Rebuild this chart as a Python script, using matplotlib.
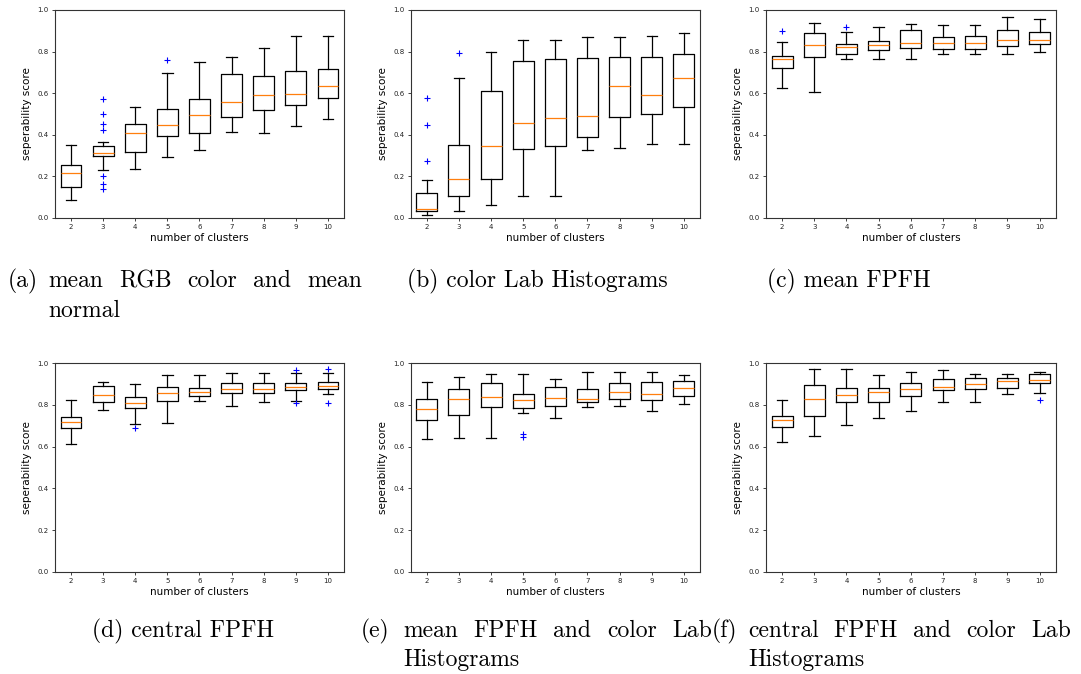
import matplotlib
matplotlib.use('Agg')
import matplotlib.pyplot as plt

# ---------------- data ----------------
CLUSTERS = [2, 3, 4, 5, 6, 7, 8, 9, 10]

A_LO = [0.088, 0.232, 0.237, 0.293, 0.326, 0.413, 0.408, 0.442, 0.474]
A_Q1 = [0.149, 0.299, 0.317, 0.395, 0.410, 0.485, 0.518, 0.541, 0.576]
A_MED = [0.216, 0.312, 0.408, 0.446, 0.494, 0.560, 0.590, 0.597, 0.634]
A_Q3 = [0.253, 0.344, 0.454, 0.522, 0.574, 0.690, 0.682, 0.709, 0.715]
A_HI = [0.352, 0.366, 0.536, 0.696, 0.750, 0.776, 0.816, 0.875, 0.875]
A_FLIERS = [[], [0.573, 0.501, 0.453, 0.422, 0.203, 0.165, 0.141], [], [0.760], [], [], [], [], []]

B_LO = [0.013, 0.034, 0.062, 0.104, 0.104, 0.326, 0.336, 0.355, 0.355]
B_Q1 = [0.034, 0.104, 0.187, 0.331, 0.346, 0.390, 0.485, 0.498, 0.536]
B_MED = [0.043, 0.189, 0.346, 0.459, 0.483, 0.490, 0.634, 0.590, 0.672]
B_Q3 = [0.120, 0.349, 0.610, 0.757, 0.766, 0.771, 0.776, 0.776, 0.787]
B_HI = [0.181, 0.675, 0.797, 0.854, 0.854, 0.869, 0.869, 0.875, 0.890]
B_FLIERS = [[0.576, 0.448, 0.274], [0.792], [], [], [], [], [], [], []]

C_LO = [0.627, 0.608, 0.766, 0.766, 0.766, 0.787, 0.787, 0.787, 0.797]
C_Q1 = [0.720, 0.773, 0.790, 0.806, 0.816, 0.811, 0.814, 0.829, 0.838]
C_MED = [0.766, 0.832, 0.821, 0.832, 0.843, 0.843, 0.843, 0.858, 0.858]
C_Q3 = [0.781, 0.890, 0.838, 0.853, 0.906, 0.872, 0.877, 0.906, 0.894]
C_HI = [0.848, 0.939, 0.894, 0.920, 0.934, 0.930, 0.930, 0.966, 0.958]
C_FLIERS = [[0.899], [], [0.920], [], [], [], [], [], []]

D_LO = [0.612, 0.773, 0.706, 0.711, 0.816, 0.792, 0.813, 0.816, 0.850]
D_Q1 = [0.687, 0.812, 0.784, 0.816, 0.842, 0.855, 0.855, 0.869, 0.875]
D_MED = [0.716, 0.845, 0.807, 0.855, 0.859, 0.875, 0.874, 0.883, 0.891]
D_Q3 = [0.741, 0.890, 0.839, 0.887, 0.882, 0.903, 0.906, 0.906, 0.911]
D_HI = [0.821, 0.909, 0.901, 0.941, 0.941, 0.950, 0.950, 0.950, 0.950]
D_FLIERS = [[], [], [0.690], [], [], [], [], [0.966, 0.807], [0.971, 0.807]]

E_LO = [0.634, 0.642, 0.642, 0.762, 0.735, 0.788, 0.792, 0.768, 0.802]
E_Q1 = [0.725, 0.751, 0.788, 0.783, 0.792, 0.812, 0.826, 0.821, 0.842]
E_MED = [0.778, 0.829, 0.837, 0.821, 0.832, 0.829, 0.859, 0.850, 0.882]
E_Q3 = [0.826, 0.877, 0.903, 0.853, 0.887, 0.874, 0.903, 0.907, 0.915]
E_HI = [0.911, 0.935, 0.946, 0.946, 0.925, 0.955, 0.955, 0.955, 0.941]
E_FLIERS = [[], [], [], [0.661, 0.645], [], [], [], [], []]

F_LO = [0.623, 0.649, 0.701, 0.735, 0.768, 0.812, 0.812, 0.850, 0.855]
F_Q1 = [0.692, 0.746, 0.812, 0.812, 0.840, 0.869, 0.874, 0.879, 0.906]
F_MED = [0.725, 0.826, 0.845, 0.859, 0.874, 0.887, 0.901, 0.912, 0.920]
F_Q3 = [0.746, 0.897, 0.882, 0.879, 0.903, 0.922, 0.927, 0.927, 0.946]
F_HI = [0.821, 0.971, 0.971, 0.941, 0.955, 0.965, 0.946, 0.946, 0.955]
F_FLIERS = [[], [], [], [], [], [], [], [], [0.821]]

Y_TICKS = [0.0, 0.2, 0.4, 0.6, 0.8, 1.0]
X_LABEL = "number of clusters"
Y_LABEL = "seperability score"

# ---------------- figure ----------------
W, H = 1081, 674
fig = plt.figure(figsize=(W / 100, H / 100), dpi=100)


def px_axes(left, top, right, bottom):
    return fig.add_axes([left / W, 1 - bottom / H, (right - left) / W, (bottom - top) / H])


def draw_panel(ax, lo, q1, med, q3, hi, fliers):
    stats = []
    for i in range(len(CLUSTERS)):
        stats.append(dict(whislo=lo[i], q1=q1[i], med=med[i], q3=q3[i],
                          whishi=hi[i], fliers=fliers[i]))
    lw = 0.9
    ax.bxp(stats, positions=CLUSTERS, widths=0.65, showfliers=True,
           boxprops=dict(color='black', linewidth=lw),
           whiskerprops=dict(color='black', linewidth=lw),
           capprops=dict(color='black', linewidth=lw),
           medianprops=dict(color='#ff7f0e', linewidth=lw),
           flierprops=dict(marker='+', markeredgecolor='blue', markersize=4,
                           linestyle='none', markeredgewidth=0.8))
    ax.set_xlim(CLUSTERS[0] - 0.5, CLUSTERS[-1] + 0.5)
    ax.set_ylim(0, 1)
    ax.set_xticks(CLUSTERS)
    ax.set_xticklabels([str(c) for c in CLUSTERS])
    ax.set_yticks(Y_TICKS)
    ax.set_yticklabels([f"{t:.1f}" for t in Y_TICKS])
    ax.tick_params(labelsize=5, length=2.5, width=0.6, pad=2, colors='#222222')
    for s in ax.spines.values():
        s.set_linewidth(0.8)
        s.set_color('#333333')
    ax.set_xlabel(X_LABEL, fontsize=7.5, labelpad=2)
    ax.set_ylabel(Y_LABEL, fontsize=7.5, labelpad=4)


panels = [
    ((55, 10, 344, 218), (A_LO, A_Q1, A_MED, A_Q3, A_HI, A_FLIERS)),
    ((410.7, 10, 700, 218), (B_LO, B_Q1, B_MED, B_Q3, B_HI, B_FLIERS)),
    ((766, 10, 1055.7, 218), (C_LO, C_Q1, C_MED, C_Q3, C_HI, C_FLIERS)),
    ((55, 363, 344, 572), (D_LO, D_Q1, D_MED, D_Q3, D_HI, D_FLIERS)),
    ((410.7, 363, 700, 572), (E_LO, E_Q1, E_MED, E_Q3, E_HI, E_FLIERS)),
    ((766, 363, 1055.7, 572), (F_LO, F_Q1, F_MED, F_Q3, F_HI, F_FLIERS)),
]
for rect, data in panels:
    ax = px_axes(*rect)
    draw_panel(ax, *data)

# ---------------- captions ----------------
CAP_FONT = 'cmr10'
CAP_SIZE = 17
renderer = fig.canvas.get_renderer()


def put(text, x, y):
    return fig.text(x / W, 1 - y / H, text, fontsize=CAP_SIZE, family=CAP_FONT,
                    ha='left', va='baseline')


def width_px(t):
    return t.get_window_extent(renderer).width


def justified(words, x0, x1, y):
    ts = [put(w, x0, y) for w in words]
    widths = [width_px(t) for t in ts]
    gap = (x1 - x0 - sum(widths)) / (len(words) - 1)
    x = x0
    for t, w in zip(ts, widths):
        t.set_x(x / W)
        x += w + gap


# top row
put("(a)", 8, 287)
justified(["mean", "RGB", "color", "and", "mean"], 48, 362, 287)
put("normal", 48, 317)
put("(b) color Lab Histograms", 407, 287)
put("(c) mean FPFH", 767, 287)

# bottom row
put("(d) central FPFH", 92, 637)
put("(e)", 361, 637)
justified(["mean", "FPFH", "and", "color", "Lab"], 403, 712, 637)
put("Histograms", 403, 666)
put("(f)", 712, 637)
justified(["central", "FPFH", "and", "color", "Lab"], 748, 1071, 637)
put("Histograms", 748, 666)

fig.savefig("out.png", dpi=100)
